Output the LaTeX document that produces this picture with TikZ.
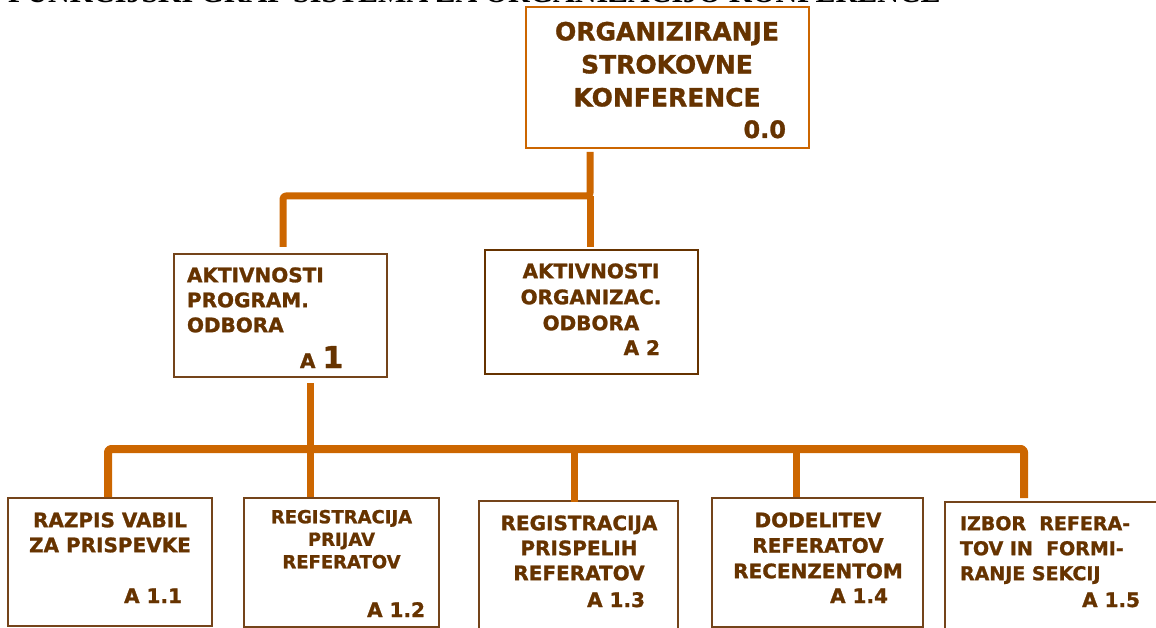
\documentclass[tikz,border=0pt]{standalone}
\usepackage{fontspec}
\setmainfont{DejaVu Sans}[BoldFeatures={FakeBold=1.2}]
\newfontfamily\titlefont{Liberation Serif}
\usetikzlibrary{calc}
\definecolor{ink}{HTML}{663300}
\definecolor{wire}{HTML}{CC6600}
\definecolor{frame}{HTML}{74441A}
\begin{document}
\begin{tikzpicture}[x=1pt,y=-1pt,
  box/.style={rectangle, draw=frame, line width=1.3pt, fill=white, inner sep=0pt, outer sep=0pt},
  rootbox/.style={box, draw=wire, line width=2.4pt},
  heavybox/.style={box, draw=ink, line width=2.4pt},
  txt/.style 2 args={text=ink, inner sep=0pt, outer sep=0pt, font=\bfseries\fontsize{#1}{#2}\selectfont},
  conn/.style={draw=wire, line width=7pt, line join=round},
  bar/.style={draw=wire, line width=8pt, line join=round}]
\useasboundingbox (0,0) rectangle (1156,628);

% heading (runs off the top edge)
\node[anchor=base west, inner sep=0pt, font=\titlefont\bfseries\fontsize{30}{30}\selectfont] (title) at (8,3)
  {FUNKCIJSKI GRAF SISTEMA ZA ORGANIZACIJO KONFERENCE};

% boxes
\node[rootbox, minimum width=283, minimum height=141] (root) at (667.5,77.5) {};
\node[box, minimum width=213, minimum height=123] (a1) at (280.5,315.5) {};
\node[heavybox, minimum width=213, minimum height=124] (a2) at (591.5,312) {};
\node[box, minimum width=204, minimum height=128] (b1) at (110,562) {};
\node[box, minimum width=195, minimum height=129] (b2) at (341.5,562.5) {};
\node[box, minimum width=199, minimum height=140] (b3) at (578.5,571) {};
\node[box, minimum width=211, minimum height=129] (b4) at (817.5,562.5) {};
\node[box, minimum width=225, minimum height=140] (b5) at (1057.5,572) {};

% connectors, level 0 -> 1
\coordinate (j1) at (590,196);
\draw[conn, rounded corners=3pt] ($(root.south -| j1)+(0,4)$) -- (j1) -| ($(a1.north)+(2.5,-7)$);
\draw[conn] (j1) -- ($(a2.north)+(-1.5,-3)$);

% connectors, level 1 -> 2
\coordinate (j2) at (310,449);
\draw[conn] ($(a1.south)+(29.5,6)$) -- ($(b2.north)+(-31.5,-1)$);
\draw[bar, rounded corners=3pt] ($(b1.north)+(-2,-1)$) |- (j2) -| ($(b5.north)+(-33.5,-4)$);
\draw[conn] ($(j2 -| b3.north)+(-4.5,0)$) -- ($(b3.north)+(-4.5,1)$);
\draw[conn] ($(j2 -| b4.north)+(-21.5,0)$) -- ($(b4.north)+(-21.5,-1)$);

% texts
\node[txt={25}{33}, align=center, anchor=north] (t0) at (667,21.8) {ORGANIZIRANJE\\STROKOVNE\\KONFERENCE};
\node[txt={24}{24}, anchor=base east] (n0) at (786,138) {0.0};

\node[txt={20}{25}, align=left, anchor=north west] (t1) at (187,267.4) {AKTIVNOSTI\\PROGRAM.\\ODBORA};
\node[txt={20}{20}, anchor=base west] (n1) at (300,368) {A {\fontsize{30}{30}\selectfont 1}};

\node[txt={20}{26}, align=center, anchor=north] (t2) at (591,263.4) {AKTIVNOSTI\\ORGANIZAC.\\ODBORA};
\node[txt={20}{20}, anchor=base east] (n2) at (660,355) {A 2};

\node[txt={20}{25}, align=center, anchor=north] (t11) at (110,512.4) {RAZPIS VABIL\\ZA PRISPEVKE};
\node[txt={20}{20}, anchor=base east] (n11) at (182,603) {A 1.1};

\node[txt={18}{22.5}, align=center, anchor=north] (t12) at (341.5,509.9) {REGISTRACIJA\\PRIJAV\\REFERATOV};
\node[txt={20}{20}, anchor=base east] (n12) at (425,617) {A 1.2};

\node[txt={20}{25}, align=center, anchor=north] (t13) at (579,515.4) {REGISTRACIJA\\PRISPELIH\\REFERATOV};
\node[txt={20}{20}, anchor=base east] (n13) at (645,607) {A 1.3};

\node[txt={20}{25.5}, align=center, anchor=north] (t14) at (818,512.4) {DODELITEV\\REFERATOV\\RECENZENTOM};
\node[txt={20}{20}, anchor=base east] (n14) at (888,603) {A 1.4};

\node[txt={19}{25}, align=left, anchor=north west] (t15) at (960,516.1) {IZBOR\ \ REFERA-\\TOV IN\ \ FORMI-\\RANJE SEKCIJ};
\node[txt={20}{20}, anchor=base east] (n15) at (1140,607) {A 1.5};
\end{tikzpicture}
\end{document}
